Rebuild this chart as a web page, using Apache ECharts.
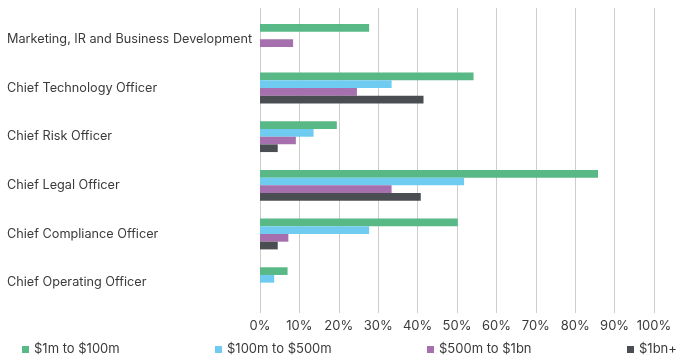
<!DOCTYPE html>
<html>
<head>
<meta charset="utf-8">
<script src="https://cdn.jsdelivr.net/npm/echarts@6/dist/echarts.min.js"></script>
<style>
  html, body { margin: 0; padding: 0; background: #ffffff; }
  #chart { width: 688px; height: 363px; }
</style>
</head>
<body>
<div id="chart"></div>
<script>
const categories = [
  'Marketing, IR and Business Development',
  'Chief Technology Officer',
  'Chief Risk Officer',
  'Chief Legal Officer',
  'Chief Compliance Officer',
  'Chief Operating Officer'
];
const seriesNames = ['$1m to $100m', '$100m to $500m', '$500m to $1bn', '$1bn+'];
const s1m100m   = [27.7, 54.2, 19.5, 85.8, 50.2, 7.0];
const s100m500m = [null, 33.4, 13.6, 51.8, 27.7, 3.6];
const s500m1bn  = [8.4, 24.6, 9.1, 33.4, 7.2, null];
const s1bnPlus  = [null, 41.5, 4.5, 40.8, 4.5, null];
const xTicks = [0, 10, 20, 30, 40, 50, 60, 70, 80, 90, 100];

const colors = ['#58b987', '#70cbf1', '#a66fad', '#4a4e52'];
const seriesData = [s1m100m, s100m500m, s500m1bn, s1bnPlus];
const fontFam = 'Inter, Roboto, "Noto Sans", sans-serif';

const chart = echarts.init(document.getElementById('chart'), null, { renderer: 'canvas' });

const legendLefts = [22, 215, 427, 627];

const option = {
  animation: false,
  backgroundColor: '#ffffff',
  color: colors,
  legend: seriesNames.map((n, i) => ({
    data: [n],
    left: legendLefts[i],
    top: 343,
    itemWidth: 7,
    itemHeight: 7,
    icon: 'rect',
    itemGap: 0,
    padding: 0,
    textStyle: { fontFamily: fontFam, fontSize: 13, color: '#3a3a3a' }
  })),
  grid: [
    { left: 260, right: 34, top: 15, bottom: 56 },
    { left: 260, right: 34, top: 8, bottom: 50 }
  ],
  xAxis: [
    {
      gridIndex: 0, type: 'value', min: 0, max: 100, interval: 10,
      splitLine: { show: false }, axisLine: { show: false }, axisTick: { show: false },
      axisLabel: { show: false }
    },
    {
      gridIndex: 1, type: 'value', min: xTicks[0], max: xTicks[xTicks.length - 1], interval: 10,
      splitLine: { show: true, lineStyle: { color: '#cdcdcd', width: 1 } },
      axisLine: { show: false }, axisTick: { show: false },
      axisLabel: {
        show: true, margin: 7, formatter: '{value}%',
        fontFamily: fontFam, fontSize: 13, color: '#3a3a3a'
      }
    }
  ],
  yAxis: [
    {
      gridIndex: 0, type: 'category', data: categories, inverse: true,
      axisLine: { show: false }, axisTick: { show: false }, splitLine: { show: false },
      axisLabel: {
        align: 'left', margin: 253,
        fontFamily: fontFam, fontSize: 12.7, color: '#3a3a3a',
        padding: [0, 0, 2, 0]
      }
    },
    { gridIndex: 1, type: 'value', show: false, min: 0, max: 1 }
  ],
  series: seriesNames.map((n, i) => ({
    name: n,
    type: 'bar',
    xAxisIndex: 0,
    yAxisIndex: 0,
    data: seriesData[i],
    barWidth: 7.7,
    barGap: '0%',
    itemStyle: { color: colors[i] },
    z: 3
  }))
};
chart.setOption(option);
</script>
</body>
</html>
